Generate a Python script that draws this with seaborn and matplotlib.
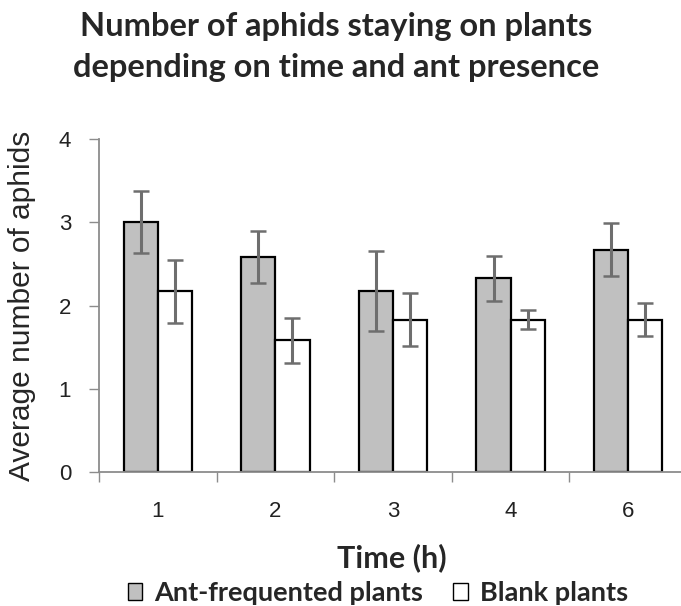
import numpy as np
import pandas as pd
import seaborn as sns
import matplotlib.pyplot as plt

# values
times = ["1", "2", "3", "4", "6"]
ant_mean = [3.0, 2.58, 2.17, 2.33, 2.67]
ant_err = [0.37, 0.31, 0.48, 0.27, 0.32]
blank_mean = [2.17, 1.58, 1.83, 1.83, 1.83]
blank_err = [0.38, 0.27, 0.32, 0.11, 0.20]
groups = ["Ant-frequented plants", "Blank plants"]

df = pd.DataFrame({
    "Time": times * 2,
    "Aphids": ant_mean + blank_mean,
    "Group": [groups[0]] * len(times) + [groups[1]] * len(times),
})

sns.set_style("white")
plt.rcParams["font.family"] = ["Liberation Sans", "DejaVu Sans"]
calibri_like = ["Lato", "DejaVu Sans"]

fig = plt.figure(figsize=(6.81, 6.06), dpi=100)
ax = fig.add_axes([99 / 681, 134 / 606, 588 / 681, 333 / 606])

sns.barplot(data=df, x="Time", y="Aphids", hue="Group", order=times,
            hue_order=groups, palette=["#c0c0c0", "white"], width=0.58,
            errorbar=None, edgecolor="black", linewidth=1.6, saturation=1,
            ax=ax, legend=False)

# error bars at bar centres
n = len(times)
for i, (means, errs) in enumerate([(ant_mean, ant_err), (blank_mean, blank_err)]):
    xs = [p.get_x() + p.get_width() / 2 for p in ax.patches[i * n:(i + 1) * n]]
    _, caps, bars = ax.errorbar(xs, means, yerr=errs, fmt="none", ecolor="#6e6e6e",
                                elinewidth=2.2, capsize=5.5, capthick=1.8, zorder=5)
    for c in caps:
        c.set_color("#2a2a2a")

ax.set_xlim(-0.5, n - 0.5)
ax.set_ylim(0, 4)
ax.set_yticks([0, 1, 2, 3, 4])
ax.set_xticks(np.arange(-0.5, n, 1.0), minor=True)
ax.tick_params(axis="x", which="major", length=0, pad=21, labelsize=16, labelcolor="#222222")
ax.tick_params(axis="x", which="minor", length=7, width=1, color="#8c8c8c", direction="out", bottom=True)
ax.tick_params(axis="y", length=7, width=1, color="#8c8c8c", direction="out", left=True,
               pad=13, labelsize=16, labelcolor="#222222")

for s in ["top", "right"]:
    ax.spines[s].set_visible(False)
for s in ["left", "bottom"]:
    ax.spines[s].set_color("#8c8c8c")
    ax.spines[s].set_linewidth(1.3)

ax.set_ylabel("Average number of aphids", fontsize=21.5)
ax.yaxis.set_label_coords(-0.107, 0.5)
ax.set_xlabel("")

fig.text(336 / 681, 1 - 36 / 606, "Number of aphids staying on plants", ha="center",
         va="baseline", fontsize=23.5, fontweight="bold", family=calibri_like)
fig.text(336 / 681, 1 - 77 / 606, "depending on time and ant presence", ha="center",
         va="baseline", fontsize=23.5, fontweight="bold", family=calibri_like)
fig.text(392 / 681, 1 - 567 / 606, "Time (h)", ha="center", va="baseline",
         fontsize=22, fontweight="bold", family=calibri_like)

handles = [plt.Rectangle((0, 0), 1, 1, facecolor=c, edgecolor="black", linewidth=1)
           for c in ["#c0c0c0", "white"]]
fig.legend(handles, groups, loc="center", bbox_to_anchor=(378 / 681, 1 - 593 / 606), ncol=2,
           frameon=False, handlelength=0.55, handleheight=0.55, handletextpad=0.45,
           columnspacing=1.1, borderpad=0, borderaxespad=0,
           prop={"family": calibri_like, "size": 19.5, "weight": "bold"})

fig.savefig("out.png", dpi=100)
